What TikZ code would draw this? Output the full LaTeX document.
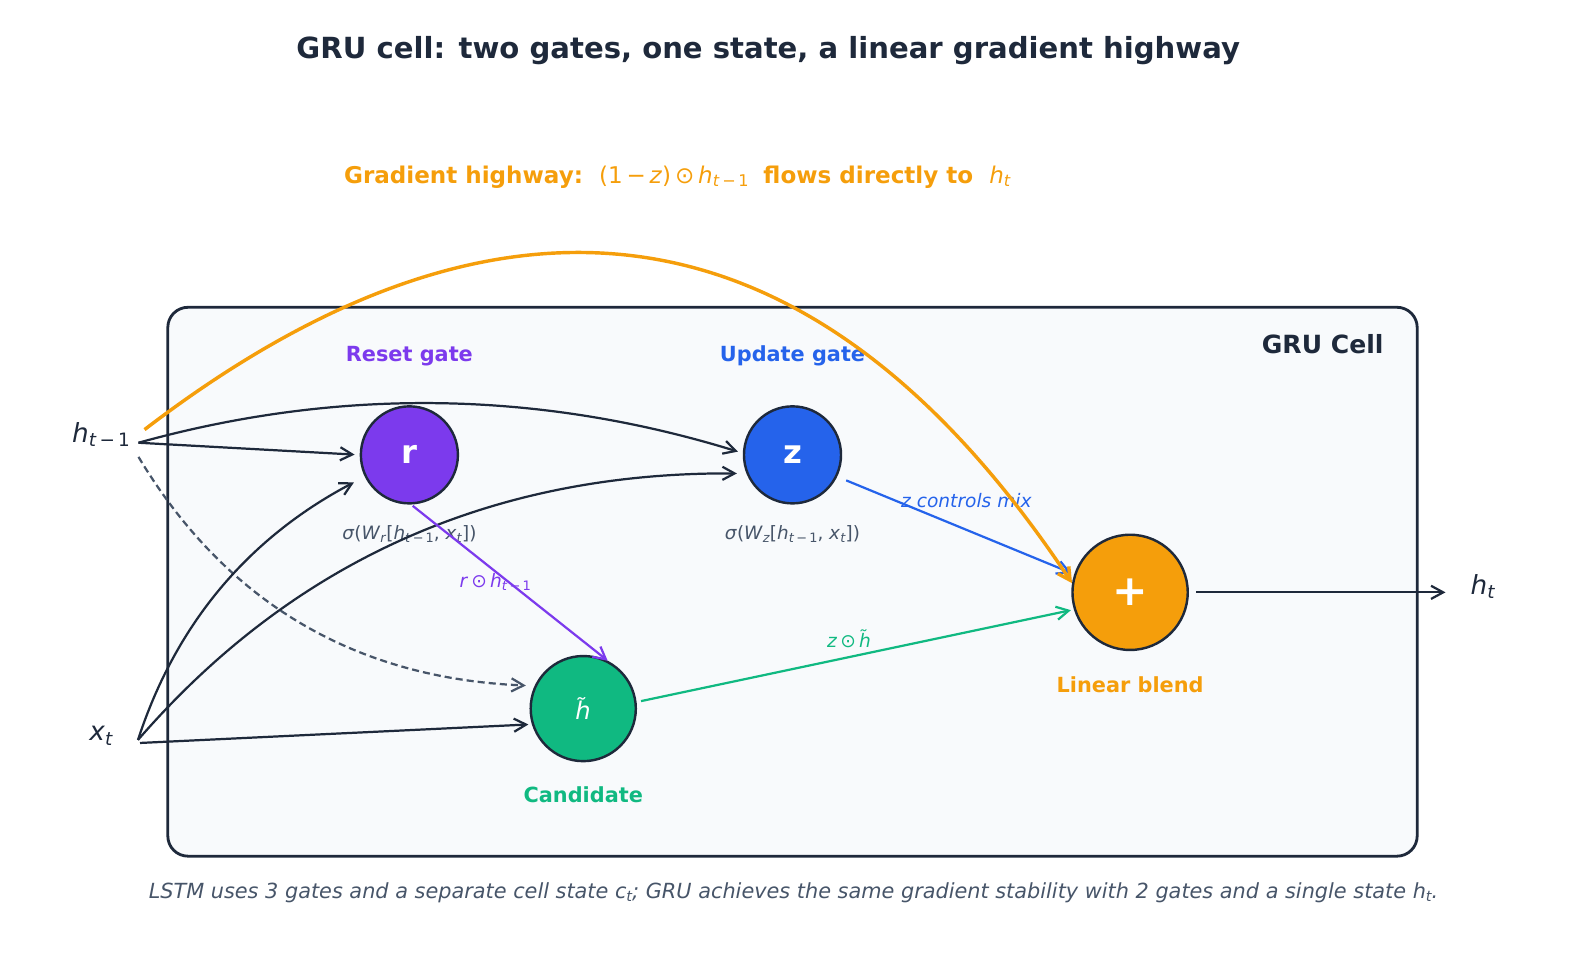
\documentclass[tikz,border=0pt]{standalone}
\usepackage{fontspec}
\setmainfont{DejaVu Sans}
\usetikzlibrary{arrows.meta}
\definecolor{ink}{HTML}{1E293B}
\definecolor{slate}{HTML}{475569}
\definecolor{purp}{HTML}{7C3AED}
\definecolor{blu}{HTML}{2563EB}
\definecolor{grn}{HTML}{10B981}
\definecolor{org}{HTML}{F59E0B}
\definecolor{boxbg}{HTML}{F8FAFC}
\newcommand\mv[1]{\textit{#1}}
\newcommand\sbs[1]{\raisebox{-0.3ex}{\scalebox{0.7}{#1}}}
\newcommand\fs[1]{\fontsize{#1}{#1}\selectfont}
\begin{document}
\begin{tikzpicture}[x=0.5pt,y=-0.5pt,
  gate/.style={circle, draw=ink, line width=1.2pt, inner sep=0pt, text=white},
  lbl/.style={inner sep=0pt},
  conn/.style={draw=ink, line width=1.1pt, -{Straight Barb[length=6pt,width=6.5pt]}}]
\useasboundingbox (0,0) rectangle (1569,967);
% title
\node[lbl, text=ink, font=\fs{14.4}\bfseries] (title) at (760,50) {GRU cell: two gates, one state, a linear gradient highway};
\node[lbl, anchor=west, text=org, font=\fs{11.4}] (grad) at (340,175) {\bfseries Gradient highway:\ \ \mdseries (1\,−\,\mv{z})\,⊙\,\mv{h}\sbs{\mv{t}\,−\,1}\ \ \bfseries flows directly to\ \ \mdseries\mv{h}\sbs{\mv{t}}};
% cell box
\draw[ink, line width=1.4pt, fill=boxbg, rounded corners=10pt] (166,304) rectangle (1402,847);
\node[lbl, anchor=east, text=ink, font=\fs{12.4}\bfseries] (celltitle) at (1369,340) {GRU Cell};
% gate titles
\node[lbl, text=purp, font=\fs{10.3}\bfseries] (rtitle) at (405,352) {Reset gate};
\node[lbl, text=blu, font=\fs{10.3}\bfseries] (ztitle) at (784,352) {Update gate};
\node[lbl, text=grn, font=\fs{10.3}\bfseries] (httitle) at (577,786) {Candidate};
\node[lbl, text=org, font=\fs{10.3}\bfseries] (ptitle) at (1118,677) {Linear blend};
% formulas
\node[lbl, text=slate, font=\fs{9.1}] (rform) at (405,528) {\mv{σ}(\mv{W}\sbs{\mv{r}}[\mv{h}\sbs{\mv{t}\,−\,1}, \mv{x}\sbs{\mv{t}}])};
\node[lbl, text=slate, font=\fs{9.1}] (zform) at (784,528) {\mv{σ}(\mv{W}\sbs{\mv{z}}[\mv{h}\sbs{\mv{t}\,−\,1}, \mv{x}\sbs{\mv{t}}])};
% side labels
\node[lbl, text=ink, font=\fs{13}] (hprev) at (100,430) {\mv{h}\sbs{\mv{t}\,−\,1}};
\node[lbl, text=ink, font=\fs{13}] (xin) at (100,728) {\mv{x}\sbs{\mv{t}}};
\node[lbl, text=ink, font=\fs{13}] (hnext) at (1467,580) {\mv{h}\sbs{\mv{t}}};
% gates
\node[gate, fill=purp, minimum size=48pt, font=\fs{16}\bfseries] (r) at (405,450) {r};
\node[gate, fill=blu, minimum size=48pt, font=\fs{16}\bfseries] (z) at (784,450) {z};
\node[gate, fill=grn, minimum size=52pt, font=\fs{12}] (ht) at (577,701) {\mv{h^^^^0303}};
\node[gate, fill=org, minimum size=57pt, font=\fs{21}\bfseries] (plus) at (1118,586) {+};
% edge labels
\node[lbl, text=purp, font=\fs{9.2}] (lr) at (490,576) {\mv{r}\,⊙\,\mv{h}\sbs{\mv{t}\,−\,1}};
\node[lbl, text=blu, font=\fs{9.2}\itshape] (lz) at (956,495) {z controls mix};
\node[lbl, text=grn, font=\fs{9.2}] (lzh) at (840,632) {\mv{z}\,⊙\,\mv{h^^^^0303}};
% free ends
\coordinate (hA) at (137,438);
\coordinate (hB) at (137,452);
\coordinate (hw) at (143,425);
\coordinate (xA) at (136.5,732);
\coordinate (xB) at (138.5,735);
\coordinate (hout) at (1430,586);
% connectors
\draw[conn, shorten >=2.5pt] (hA) -- (r.west);
\draw[conn, shorten >=2.5pt] (hA) .. controls (335,383) and (533,386) .. (z.178);
\draw[conn, slate, dash pattern=on 3.5pt off 2pt, shorten >=4.3pt] (hB) .. controls (223.5,596.3) and (351.7,671.2) .. (ht.155);
\draw[conn, shorten >=1.7pt] (xB) -- (ht.197);
\draw[conn, shorten >=6pt] (xA) .. controls (173.7,617.7) and (245.2,532.4) .. (r.206);
\draw[conn, shorten >=4.7pt] (xA) .. controls (291.2,553.5) and (489.4,466.8) .. (z.202.5);
\draw[conn, purp, shorten <=1pt] (r.272) -- (ht.63);
\draw[conn, blu, shorten <=4.8pt, shorten >=1.5pt] (z.334) -- (plus.162);
\draw[conn, grn, shorten <=2.2pt, shorten >=1.5pt] (ht.7) -- (plus.197.7);
\draw[conn, shorten <=3.5pt] (plus.east) -- (hout);
\draw[conn, org, line width=1.7pt] (hw) .. controls (505,148) and (811,201) .. (plus.171);
% caption
\node[lbl, text=slate, font=\fs{10.3}\itshape] (cap) at (785,883) {LSTM uses 3 gates and a separate cell state \mv{c}\sbs{\mv{t}}; GRU achieves the same gradient stability with 2 gates and a single state \mv{h}\sbs{\mv{t}}.};
\end{tikzpicture}
\end{document}
